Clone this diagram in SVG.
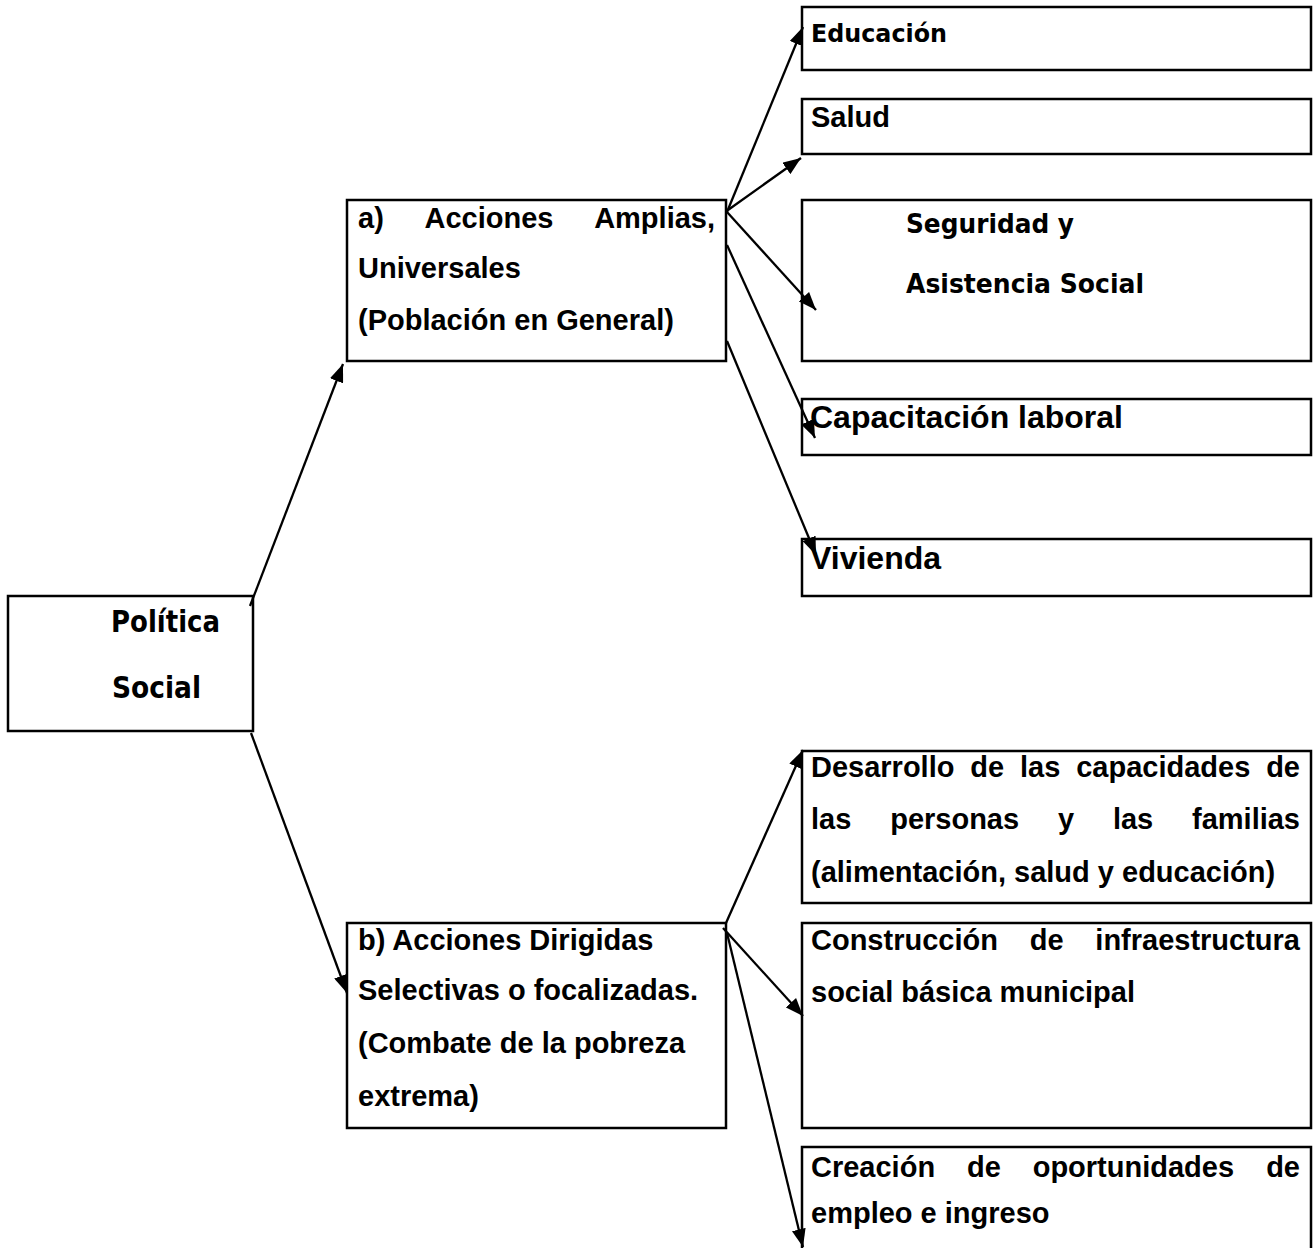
<svg xmlns="http://www.w3.org/2000/svg" width="1313" height="1248" viewBox="0 0 1313 1248">
<style>
.box{fill:#fff;stroke:#000;stroke-width:2.5}
.t{font-family:"Liberation Sans",Arial,sans-serif;font-weight:bold;font-size:29px;fill:#000}
.big{font-size:32px}
.c{font-family:"DejaVu Sans","Liberation Sans",sans-serif;font-weight:bold;fill:#000}
.ln{fill:none;stroke:#000;stroke-width:2.3}
</style>
<defs>
<marker id="ah" viewBox="0 0 18 14" refX="18" refY="7" markerWidth="18" markerHeight="14" markerUnits="userSpaceOnUse" orient="auto">
<path d="M0,0 L18,7 L0,14 z" fill="#000"/>
</marker>
</defs>
<rect width="1313" height="1248" fill="#fff"/>
<g id="politica">
<rect class="box" x="8" y="596" width="245" height="135"/>
<text class="c" x="111" y="632" font-size="30" textLength="109" lengthAdjust="spacingAndGlyphs">Política</text>
<text class="c" x="112" y="698" font-size="30" textLength="89" lengthAdjust="spacingAndGlyphs">Social</text>
</g>
<g id="acciones-amplias">
<rect class="box" x="347" y="200" width="379" height="161"/>
<text class="t" x="358" y="228">a)</text>
<text class="t" x="424.5" y="228">Acciones</text>
<text class="t" x="715" y="228" text-anchor="end">Amplias,</text>
<text class="t" x="358" y="278">Universales</text>
<text class="t" x="358" y="330">(Población en General)</text>
</g>
<g id="acciones-dirigidas">
<rect class="box" x="347" y="923" width="379" height="205"/>
<text class="t" x="358" y="950">b) Acciones Dirigidas</text>
<text class="t" x="358" y="1000">Selectivas o focalizadas.</text>
<text class="t" x="358" y="1053">(Combate de la pobreza</text>
<text class="t" x="358" y="1106">extrema)</text>
</g>
<g id="educacion">
<rect class="box" x="802" y="7" width="509" height="63"/>
<text class="c" x="811" y="42" font-size="24" textLength="136" lengthAdjust="spacingAndGlyphs">Educación</text>
</g>
<g id="salud">
<rect class="box" x="802" y="99" width="509" height="55"/>
<text class="t" x="811" y="127" font-size="28">Salud</text>
</g>
<g id="seguridad">
<rect class="box" x="802" y="200" width="509" height="161"/>
<text class="c" x="906" y="233" font-size="27" textLength="168" lengthAdjust="spacingAndGlyphs">Seguridad y</text>
<text class="c" x="906" y="293" font-size="27" textLength="238" lengthAdjust="spacingAndGlyphs">Asistencia Social</text>
</g>
<g id="capacitacion">
<rect class="box" x="802" y="399" width="509" height="56"/>
<text class="t big" x="810" y="428">Capacitación laboral</text>
</g>
<g id="vivienda">
<rect class="box" x="802" y="539" width="509" height="57"/>
<text class="t big" x="810" y="569">Vivienda</text>
</g>
<g id="desarrollo">
<rect class="box" x="802" y="751" width="509" height="152"/>
<text class="t" x="811" y="777">Desarrollo</text>
<text class="t" x="970.3" y="777">de</text>
<text class="t" x="1020" y="777">las</text>
<text class="t" x="1076.2" y="777">capacidades</text>
<text class="t" x="1300" y="777" text-anchor="end">de</text>
<text class="t" x="811" y="829">las</text>
<text class="t" x="890.2" y="829">personas</text>
<text class="t" x="1057.9" y="829">y</text>
<text class="t" x="1112.9" y="829">las</text>
<text class="t" x="1300" y="829" text-anchor="end">familias</text>
<text class="t" x="811" y="882">(alimentación, salud y educación)</text>
</g>
<g id="construccion">
<rect class="box" x="802" y="923" width="509" height="205"/>
<text class="t" x="811" y="950">Construcción</text>
<text class="t" x="1029.7" y="950">de</text>
<text class="t" x="1300" y="950" text-anchor="end">infraestructura</text>
<text class="t" x="811" y="1002">social básica municipal</text>
</g>
<g id="creacion">
<rect class="box" x="802" y="1147" width="509" height="120"/>
<text class="t" x="811" y="1177">Creación</text>
<text class="t" x="967" y="1177">de</text>
<text class="t" x="1032.7" y="1177">oportunidades</text>
<text class="t" x="1300" y="1177" text-anchor="end">de</text>
<text class="t" x="811" y="1223">empleo e ingreso</text>
</g>
<g id="connectors">
<line class="ln" x1="250" y1="606" x2="343" y2="364" marker-end="url(#ah)"/>
<line class="ln" x1="251" y1="733" x2="347" y2="993" marker-end="url(#ah)"/>
<line class="ln" x1="727" y1="212" x2="803" y2="27" marker-end="url(#ah)"/>
<line class="ln" x1="728" y1="210" x2="801" y2="158" marker-end="url(#ah)"/>
<line class="ln" x1="727" y1="212" x2="816" y2="310" marker-end="url(#ah)"/>
<line class="ln" x1="727" y1="245" x2="815" y2="438" marker-end="url(#ah)"/>
<line class="ln" x1="727" y1="341" x2="816" y2="555" marker-end="url(#ah)"/>
<line class="ln" x1="726" y1="923" x2="803" y2="750" marker-end="url(#ah)"/>
<line class="ln" x1="723" y1="928" x2="803" y2="1016" marker-end="url(#ah)"/>
<line class="ln" x1="727" y1="933" x2="803" y2="1247" marker-end="url(#ah)"/>
</g>
</svg>
